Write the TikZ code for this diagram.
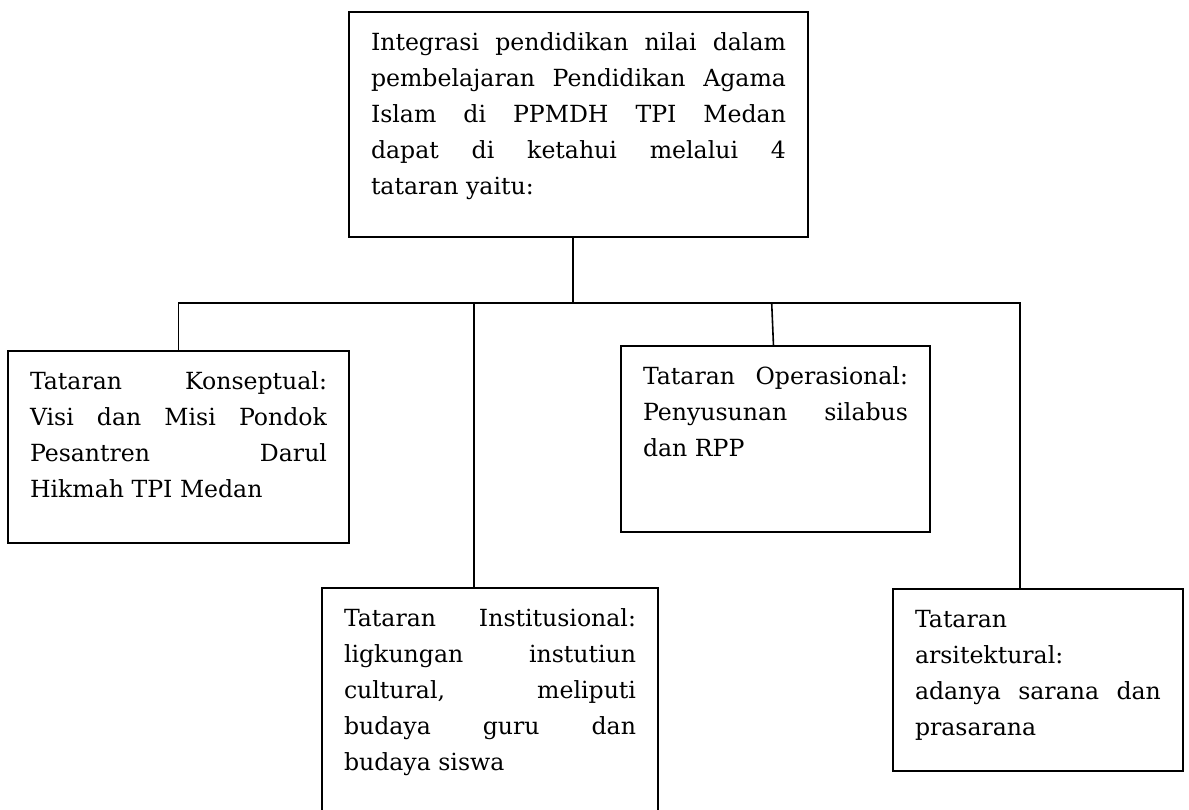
\documentclass[tikz,border=0pt]{standalone}
\usepackage{fontspec}
\setmainfont{DejaVu Serif}
\usepackage{tikz}
\hbadness=10000
\newcommand{\isitataran}[3]{\parbox[c][#2][t]{#1}{\rule{0pt}{19pt}#3}}
\tikzset{
  tataran/.style={
      draw,
      line width=0.8pt,
      anchor=north west,
      inner xsep=11pt,
      inner ysep=0pt,
      outer sep=0pt,
      font=\fontsize{11.8}{18}\selectfont
    },
  garis/.style={line width=0.8pt}
}
\begin{document}
\begin{tikzpicture}[x=0.5pt,y=-0.5pt]
\useasboundingbox (0,0) rectangle (1189,809);
% the boxes
\node[tataran] (atas) at (349,12)
  {\isitataran{207.5pt}{112.5pt}{Integrasi pendidikan nilai dalam \linebreak pembelajaran Pendidikan Agama \linebreak Islam di PPMDH TPI Medan \linebreak dapat di ketahui melalui 4 \linebreak tataran yaitu:}};
\node[tataran] (konsep) at (8,351)
  {\isitataran{148.5pt}{96pt}{Tataran Konseptual: \linebreak Visi dan Misi Pondok \linebreak Pesantren Darul \linebreak Hikmah TPI Medan}};
\node[tataran] (ops) at (621,346)
  {\isitataran{132.5pt}{93pt}{Tataran Operasional: \linebreak Penyusunan silabus \linebreak dan RPP}};
\node[tataran] (inst) at (322,588)
  {\isitataran{146pt}{112pt}{Tataran Institusional: \linebreak ligkungan instutiun \linebreak cultural, meliputi \linebreak budaya guru dan \linebreak budaya siswa}};
\node[tataran] (arsi) at (893,589)
  {\isitataran{123pt}{91pt}{Tataran\\arsitektural:\\adanya sarana dan \linebreak prasarana}};

% the lines
\coordinate (cabang) at ([xshift=-2.75pt,yshift=-33pt]atas.south);
\coordinate (inst-t) at ([xshift=-8pt]inst.north);
\coordinate (ops-t) at ([xshift=-1pt]ops.north);
\coordinate (arsi-t) at ([xshift=-9pt]arsi.north);
\draw[garis] (atas.south -| cabang) -- (cabang);
\draw[garis] (konsep.north) |- (cabang) -| (arsi-t);
\draw[garis] (inst-t) -- (inst-t |- cabang);
\draw[garis] (ops-t) -- ([xshift=-0.9pt]ops-t |- cabang);
\end{tikzpicture}
\end{document}
